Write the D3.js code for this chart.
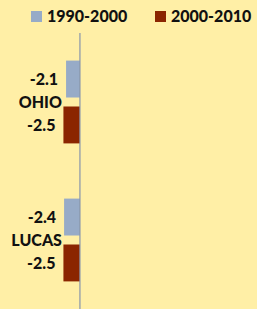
<!DOCTYPE html>
<html>
<head>
<meta charset="utf-8">
<script src="https://cdn.jsdelivr.net/npm/d3@7"></script>
<style>
  body { margin: 0; background: #FFEFA6; }
  text { font-family: Lato, "Open Sans", sans-serif; font-weight: 900; fill: #111; }
</style>
</head>
<body>
<div id="chart"></div>
<script>
// data
const categories = ["OHIO", "LUCAS"];
const series = ["1990-2000", "2000-2010"];
const values1990 = [-2.1, -2.4];
const values2000 = [-2.5, -2.5];
const colors = ["#97ABC7", "#8B2500"];

const width = 257, height = 309;

const svg = d3.select("#chart").append("svg")
  .attr("width", width)
  .attr("height", height);

svg.append("rect").attr("width", width).attr("height", height).attr("fill", "#FFEFA6");

// x : valeurs (0 à x=80)
const x = d3.scaleLinear().domain([-12.1, 26.8]).range([0, width]);
const y = d3.scaleBand().domain(categories).range([33, 309]).paddingInner(0.4).paddingOuter(0.2);
const yInner = d3.scaleBand().domain(series).range([0, y.bandwidth()]).paddingInner(0.196);

const rows = categories.map((c, i) => ({ cat: c, vals: [values1990[i], values2000[i]] }));

const groups = svg.selectAll(".grp")
  .data(rows)
  .enter()
  .append("g")
  .attr("class", "grp")
  .attr("transform", d => `translate(0,${y(d.cat)})`);

groups.selectAll("rect")
  .data(d => d.vals.map((v, j) => ({ s: series[j], v: v, j: j })))
  .enter()
  .append("rect")
  .attr("x", d => x(Math.min(0, d.v)))
  .attr("y", d => yInner(d.s))
  .attr("width", d => Math.abs(x(d.v) - x(0)))
  .attr("height", yInner.bandwidth())
  .attr("fill", d => colors[d.j]);

// etiquettes des valeurs
groups.selectAll(".val")
  .data(d => d.vals.map((v, j) => ({ s: series[j], v: v })))
  .enter()
  .append("text")
  .attr("class", "val")
  .attr("x", d => x(d.v) - 8)
  .attr("y", d => yInner(d.s) + yInner.bandwidth() / 2)
  .attr("dy", "0.35em")
  .attr("text-anchor", "end")
  .style("font-size", "16px")
  .text(d => d.v.toFixed(1));

// noms des catégories
groups.append("text")
  .attr("x", x(0) - 18)
  .attr("y", y.bandwidth() / 2)
  .attr("dy", "0.35em")
  .attr("text-anchor", "end")
  .style("font-size", "16px")
  .text(d => d.cat);

// axe vertical
svg.append("line")
  .attr("x1", x(0)).attr("x2", x(0))
  .attr("y1", 33).attr("y2", height)
  .attr("stroke", "#8693AB")
  .attr("stroke-width", 1.2);

// légende
const legendX = [31, 155];
const legend = svg.selectAll(".leg")
  .data(series)
  .enter()
  .append("g")
  .attr("class", "leg")
  .attr("transform", (d, i) => `translate(${legendX[i]},11)`);

legend.append("rect")
  .attr("width", 11).attr("height", 11)
  .attr("fill", (d, i) => colors[i]);

legend.append("text")
  .attr("x", 16)
  .attr("y", 5.5)
  .attr("dy", "0.35em")
  .style("font-size", "16px")
  .text(d => d);
</script>
</body>
</html>
